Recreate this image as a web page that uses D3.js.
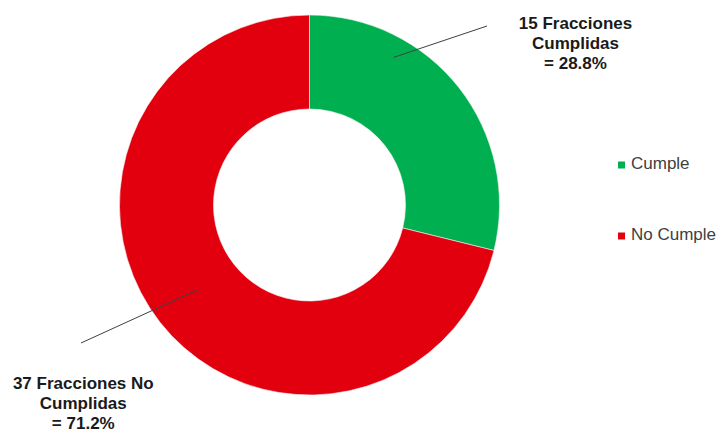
<!DOCTYPE html>
<html>
<head>
<meta charset="utf-8">
<script src="https://cdn.jsdelivr.net/npm/d3@7"></script>
<style>
  html, body { margin: 0; padding: 0; background: #fff; }
  svg { display: block; font-family: "Liberation Sans", Arial, sans-serif; }
</style>
</head>
<body>
<svg id="chart" width="721" height="432"></svg>
<script>
// ---- data ----
const categories = ["Cumple", "No Cumple"];
const values = [15, 37];
const labelLines = [
  ["15 Fracciones", "Cumplidas", "= 28.8%"],
  ["37 Fracciones No", "Cumplidas", "= 71.2%"]
];
const colors = ["#00B050", "#E2000F"];

// ---- layout ----
const W = 721, H = 432;
const cx = 309.5, cy = 205, rOuter = 190, rInner = 96;
// leader line: start (angle deg from top, radius), label anchor
const leaders = [
  { a0: 29.7, r0: 170, x1: 487, y1: 26, lx: 575.5, ly: 29.3 },
  { a0: 232.9, r0: 141, x1: 81, y1: 343, lx: 83.3, ly: 389.3 }
];

const svg = d3.select("#chart");
const g = svg.append("g").attr("transform", `translate(${cx},${cy})`);

const pie = d3.pie().sort(null).value(d => d.value);
const arcs = pie(categories.map((c, i) => ({ cat: c, value: values[i], i })));
const arc = d3.arc().innerRadius(rInner).outerRadius(rOuter);

g.selectAll("path.slice")
  .data(arcs)
  .join("path")
  .attr("class", "slice")
  .attr("d", arc)
  .attr("fill", (d, i) => colors[i])
  .attr("stroke", "#f4f4f4")
  .attr("stroke-width", 0.6);

// leader lines
leaders.forEach((L, i) => {
  const a = L.a0 * Math.PI / 180;
  const x0 = cx + L.r0 * Math.sin(a), y0 = cy - L.r0 * Math.cos(a);
  svg.append("line")
    .attr("x1", x0).attr("y1", y0)
    .attr("x2", L.x1).attr("y2", L.y1)
    .attr("stroke", "#404040")
    .attr("stroke-width", 1);
  const t = svg.append("text")
    .attr("text-anchor", "middle")
    .attr("font-weight", "bold")
    .attr("font-size", 17)
    .attr("fill", "#1a1a1a");
  labelLines[i].forEach((s, k) => {
    t.append("tspan").attr("x", L.lx).attr("y", L.ly + k * 20).text(s);
  });
});

// legend
const legend = svg.append("g").attr("transform", "translate(618,0)");
const legY = [169, 240];
categories.forEach((c, i) => {
  legend.append("rect")
    .attr("x", 0).attr("y", legY[i] - 7.5)
    .attr("width", 7).attr("height", 7)
    .attr("fill", colors[i]);
  legend.append("text")
    .attr("x", 13).attr("y", legY[i])
    .attr("font-size", 17)
    .attr("fill", "#404040")
    .text(c);
});
</script>
</body>
</html>
